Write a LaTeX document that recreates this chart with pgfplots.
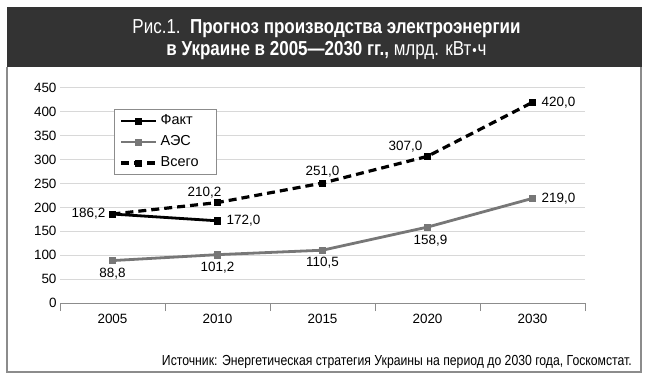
\documentclass[border=0pt]{standalone}
\usepackage{fontspec}
\setmainfont{Liberation Sans}
\newfontfamily\cond{Liberation Sans}[FakeStretch=0.84]
\usepackage{pgfplots}
\pgfplotsset{compat=1.18}
\definecolor{hdr}{HTML}{333333}
\definecolor{aes}{HTML}{777777}
\definecolor{gridc}{HTML}{D8D8D8}
\definecolor{framec}{HTML}{8C8C8C}

\pgfplotsset{lbl/.style={forget plot, draw=none, mark=none,
  nodes near coords={\pgfmathprintnumber[use comma,fixed,fixed zerofill,precision=1]{\pgfplotspointmeta}},
  nodes near coords style={anchor=#1, font=\fontsize{13.5}{16}\selectfont, text=black, inner sep=4bp},
}}

\begin{document}
\begin{tikzpicture}[x=1bp,y=1bp]
\path[use as bounding box] (0,0) rectangle (650,380);
\fill[hdr] (7,313) rectangle (642,373);
\draw[framec,line width=1.5bp] (7,313) -- (7,8) -- (641,8) -- (641,313);
\node[white,font=\cond\fontsize{20.3}{24}\selectfont,anchor=base,inner sep=0] at (326.5,347) {Рис.1.\ \ \textbf{Прогноз производства электроэнергии}};
\node[white,font=\cond\fontsize{20.3}{24}\selectfont,anchor=base,inner sep=0] at (326.5,325) {\textbf{в Украине в 2005—2030 гг.,} млрд. кВт\kern1bp{\fontsize{15}{15}\selectfont•}\kern1bp ч};
\node[font=\cond\fontsize{14.6}{17}\selectfont,anchor=base east,inner sep=0] at (632,15) {Источник: Энергетическая стратегия Украины на период до 2030 года, Госкомстат.};
\begin{axis}[
  at={(60bp,77bp)}, anchor=south west,
  scale only axis, width=525bp, height=215bp,
  xmin=-0.5, xmax=4.5, ymin=0, ymax=450,
  xtick={0,1,2,3,4},
  xticklabels={2005,2010,2015,2020,2030},
  major x tick style={draw=none},
  minor xtick={-0.5,0.5,1.5,2.5,3.5,4.5},
  minor x tick style={draw=framec,line width=1bp},
  minor tick length=8bp,
  xtick align=outside,
  ytick={0,50,...,450},
  major y tick style={draw=none},
  ymajorgrids, grid style={gridc,line width=1bp},
  axis x line*=bottom, axis y line*=left,
  x axis line style={framec,line width=1bp},
  y axis line style={draw=none},
  ticklabel style={font=\fontsize{13.5}{16}\selectfont},
  xticklabel style={yshift=-3bp},
  /pgf/number format/assume math mode=true,
  legend style={at={(0.103,0.902)}, anchor=north west, draw=framec, line width=0.8bp,
     font=\fontsize{14.5}{17}\selectfont, row sep=0bp, inner xsep=5bp, inner ysep=1bp,
     nodes={text width=48bp, text height=11bp, text depth=4bp, align=left, inner sep=3bp}},
  legend cell align=left,
  legend image code/.code={\draw[mark repeat=2,mark phase=2] plot coordinates {(0bp,0bp) (17.5bp,0bp) (35bp,0bp)};},
]
\addplot[black, line width=2.8bp, mark=square*, mark size=3.1bp, mark options={solid,line width=0.5bp}] coordinates {(0,186.2) (1,172.0)};
\addlegendentry{Факт}
\addplot[aes, line width=2.8bp, mark=square*, mark size=3.1bp, mark options={solid,line width=0.5bp}] coordinates {(0,88.8) (1,101.2) (2,110.5) (3,158.9) (4,219.0)};
\addlegendentry{АЭС}
\addplot[black, line width=3.2bp, dash pattern=on 8bp off 5bp, mark=square*, mark size=3.1bp, mark options={solid,line width=0.5bp}] coordinates {(0,186.2) (1,210.2) (2,251.0) (3,307.0) (4,420.0)};
\addlegendentry{Всего}
% labels
\addplot[lbl=east, nodes near coords style={xshift=-3bp}] coordinates {(0,186.2)};
\addplot[lbl=west, nodes near coords style={xshift=5bp}] coordinates {(1,172.0) (4,219.0) (4,420.0)};
\addplot[lbl=north, nodes near coords style={yshift=-3bp}] coordinates {(0,88.8) (1,101.2) (2,110.5)};
\addplot[lbl=north, nodes near coords style={yshift=-4bp,xshift=3bp}] coordinates {(3,158.9)};
\addplot[lbl=south east, nodes near coords style={xshift=8bp}] coordinates {(1,210.2)};
\addplot[lbl=south, nodes near coords style={yshift=2bp}] coordinates {(2,251.0)};
\addplot[lbl=south east, nodes near coords style={xshift=-1bp}] coordinates {(3,307.0)};
\end{axis}
\end{tikzpicture}
\end{document}
